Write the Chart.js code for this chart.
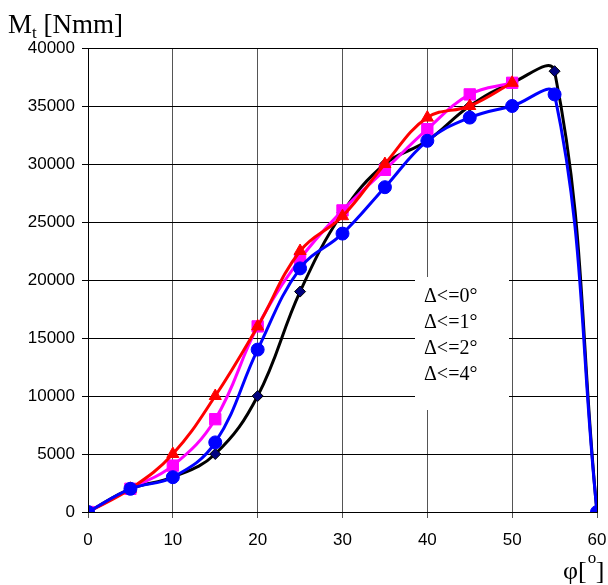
<!DOCTYPE html>
<html>
<head>
<meta charset="utf-8">
<script src="https://cdn.jsdelivr.net/npm/chart.js@4/dist/chart.umd.min.js"></script>
<style>
  html, body { margin: 0; padding: 0; background: #fff; }
  #wrap { width: 608px; height: 585px; }
</style>
</head>
<body>
<div id="wrap"><canvas id="chart" width="608" height="585"></canvas></div>
<script>
// dane
const phi = [0, 5, 10, 15, 20, 25, 30, 35, 40, 45, 50, 55, 60];
const yTicks = [0, 5000, 10000, 15000, 20000, 25000, 30000, 35000, 40000];
const labels = ['Δ<=0°', 'Δ<=1°', 'Δ<=2°', 'Δ<=4°'];

const mt0 = [0, 2000, 3000, 5000, 10000, 19000, 25800, 30000, 32000, 35000, 37000, 38000, 0];
const mt1 = [0, 2000, 4000, 8000, 16000, 21800, 26000, 29500, 33000, 36000, 37000, null, null];
const mt2 = [0, 2000, 5000, 10000, 16000, 22500, 25500, 30000, 34000, 35000, 37000, null, null];
const mt4 = [0, 2000, 3000, 6000, 14000, 21000, 24000, 28000, 32000, 34000, 35000, 36000, 0];

function pts(arr) {
    return phi.map((x, i) => ({ x: x, y: arr[i] })).filter(p => p.y !== null);
}

// legenda w bialym prostokacie + opisy osi
const decorPlugin = {
    id: 'decor',
    afterDraw(chart) {
        const ctx = chart.ctx;
        const a = chart.chartArea;
        ctx.save();
        // ramka obszaru wykresu
        ctx.strokeStyle = '#000';
        ctx.lineWidth = 1;
        ctx.strokeRect(Math.round(a.left) + 0.5, Math.round(a.top) + 0.5,
            Math.round(a.right - a.left), Math.round(a.bottom - a.top));
        ctx.restore();

        ctx.save();
        ctx.fillStyle = '#000';
        ctx.font = '27px "Liberation Serif", "Times New Roman", serif';
        ctx.textBaseline = 'alphabetic';
        ctx.fillText('M', 8, 33);
        const mw = ctx.measureText('M').width;
        ctx.font = '17px "Liberation Serif", "Times New Roman", serif';
        ctx.fillText('t', 8 + mw, 38);
        const tw = ctx.measureText('t').width;
        ctx.font = '27px "Liberation Serif", "Times New Roman", serif';
        ctx.fillText(' [Nmm]', 8 + mw + tw, 33);

        // opis osi x
        ctx.font = '26px "Liberation Serif", "Times New Roman", serif';
        ctx.fillText('φ[', 563, 579);
        const pw = ctx.measureText('φ[').width;
        ctx.fillText(']', 563 + pw + 9, 579);
        ctx.font = '17px "Liberation Serif", "Times New Roman", serif';
        ctx.fillText('o', 563 + pw + 1, 563);
        ctx.restore();
    },
    afterDatasetsDraw(chart) {
        const ctx = chart.ctx;
        ctx.save();
        ctx.fillStyle = '#fff';
        ctx.fillRect(415, 277, 94, 133);
        ctx.fillStyle = '#000';
        ctx.font = '20px "Liberation Serif", "Times New Roman", serif';
        chart.data.datasets.forEach((ds, i) => {
            ctx.fillText(ds.label, 424, 302 + i * 26);
        });
        ctx.restore();
    }
};

new Chart(document.getElementById('chart'), {
    type: 'line',
    data: {
        datasets: [
            {
                label: labels[0], data: pts(mt0), order: 3,
                borderColor: '#000', borderWidth: 3,
                pointStyle: 'rectRot', pointRadius: 5.5,
                pointBackgroundColor: '#000080', pointBorderColor: '#000', pointBorderWidth: 1
            },
            {
                label: labels[1], data: pts(mt1), order: 2,
                borderColor: '#ff00ff', borderWidth: 3,
                pointStyle: 'rect', pointRadius: 8,
                pointBackgroundColor: '#ff00ff', pointBorderColor: '#ff00ff', pointBorderWidth: 1
            },
            {
                label: labels[2], data: pts(mt2), order: 1,
                borderColor: '#ff0000', borderWidth: 3,
                pointStyle: 'triangle', pointRadius: 7,
                pointBackgroundColor: '#ff0000', pointBorderColor: '#ff0000', pointBorderWidth: 1
            },
            {
                label: labels[3], data: pts(mt4), order: 0,
                borderColor: '#0000ff', borderWidth: 3,
                pointStyle: 'circle', pointRadius: 6.5,
                pointBackgroundColor: '#0000ff', pointBorderColor: '#0000ff', pointBorderWidth: 1
            }
        ]
    },
    options: {
        responsive: false,
        animation: false,
        devicePixelRatio: 1,
        layout: { padding: { top: 48, right: 11, left: 0, bottom: 0 } },
        elements: { line: { tension: 0.4 } },
        plugins: {
            legend: { display: false },
            tooltip: { enabled: false }
        },
        scales: {
            x: {
                type: 'linear', min: 0, max: 60,
                afterBuildTicks(scale) { scale.ticks = phi.filter(v => v % 10 === 0).map(v => ({ value: v })); },
                afterFit(scale) {
                    scale.height = 73;
                    scale.paddingLeft = 0;
                    scale.paddingRight = 0;
                },
                grid: { color: '#555', lineWidth: 1, tickLength: 6, tickColor: '#555' },
                border: { display: true, color: '#000', width: 1 },
                ticks: {
                    color: '#000', padding: 12,
                    callback: v => String(v),
                    font: { family: '"Liberation Sans", Arial, sans-serif', size: 17 }
                }
            },
            y: {
                type: 'linear', min: 0, max: 40000,
                afterBuildTicks(scale) { scale.ticks = yTicks.map(v => ({ value: v })); },
                afterFit(scale) {
                    scale.width = 88;
                    scale.paddingTop = 0;
                    scale.paddingBottom = 0;
                },
                grid: { color: '#000', lineWidth: 1, tickLength: 6, tickColor: '#000' },
                border: { display: true, color: '#000', width: 1 },
                ticks: {
                    color: '#000', padding: 7,
                    callback: v => String(v),
                    font: { family: '"Liberation Sans", Arial, sans-serif', size: 17 }
                }
            }
        }
    },
    plugins: [decorPlugin]
});
</script>
</body>
</html>
